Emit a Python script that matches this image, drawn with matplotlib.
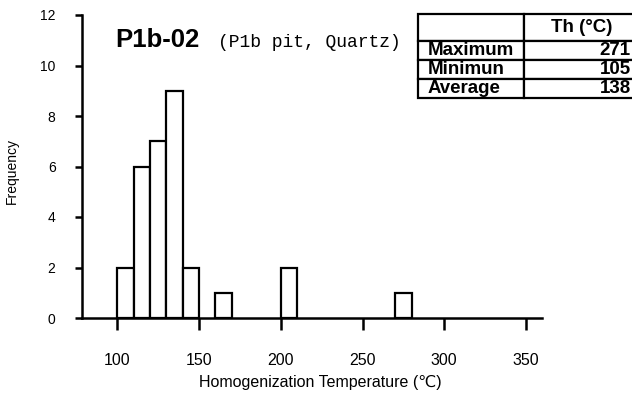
import matplotlib
matplotlib.use("Agg")
import matplotlib.pyplot as plt

# Data
bin_lefts = [100, 110, 120, 130, 140, 160, 200, 270]
counts = [2, 6, 7, 9, 2, 1, 2, 1]
bin_width = 10
x_ticks = [100, 150, 200, 250, 300, 350]
y_ticks = [0, 2, 4, 6, 8, 10, 12]
row_labels = ["Maximum", "Minimun", "Average"]
row_values = ["271", "105", "138"]
header = ["", "Th (°C)"]

FAM = ["Liberation Sans", "DejaVu Sans"]
plt.rcParams["font.family"] = FAM

fig = plt.figure(figsize=(6.32, 3.95), dpi=100)
ax = fig.add_axes([82/632, 1-318/395, 460/632, 303/395])

ax.bar(bin_lefts, counts, width=bin_width, align="edge", facecolor="white",
       edgecolor="black", linewidth=1.6, zorder=3)

ax.set_xlim(78.4, 359.8)
ax.set_ylim(0, 12)
ax.set_xticks(x_ticks)
ax.set_yticks(y_ticks)
for s in ["top", "right"]:
    ax.spines[s].set_visible(False)
for s in ["left", "bottom"]:
    ax.spines[s].set_linewidth(1.8)
ax.tick_params(axis="x", direction="out", length=8.5, width=1.8, pad=17, labelsize=11.5)
ax.tick_params(axis="y", direction="out", length=5, width=1.8, pad=14, labelsize=10)

ax.set_ylabel("Frequency", fontsize=10, va="center")
ax.yaxis.set_label_coords((12-82)/460, (318-171)/303)
ax.set_xlabel("Homogenization Temperature (℃)", fontsize=11.5, va="center")
ax.xaxis.set_label_coords((320-82)/460, (318-382)/303)

# Title texts
fig.text(115/632, 1-47/395, "P1b-02", fontsize=18.5, fontweight="bold",
         va="baseline", ha="left")
fig.text(218/632, 1-47/395, "(P1b pit, Quartz)", fontsize=13,
         va="baseline", ha="left", family="Liberation Mono")

# Table
cell_text = [header] + [[l, v] for l, v in zip(row_labels, row_values)]
x0 = (418-82)/460
y_top = (318-14)/303
y_bot = (318-98)/303
w = (640-418)/460
tbl = ax.table(cellText=cell_text, cellLoc="left",
               bbox=[x0, y_bot, w, y_top - y_bot], zorder=5)
tbl.auto_set_font_size(False)
for (r, c), cell in tbl.get_celld().items():
    cell.set_linewidth(1.6)
    cell.set_edgecolor("black")
    cell.set_width(106 if c == 0 else 116)
    cell.set_height(27 if r == 0 else 19)
    txt = cell.get_text()
    txt.set_fontsize(13.5)
    txt.set_fontweight("bold")
    cell.PAD = 0.09
    if c == 1:
        if r == 0:
            txt.set_horizontalalignment("center")
            cell.PAD = 0.0
        else:
            txt.set_horizontalalignment("right")
            cell.PAD = 0.08
    cell.set_clip_on(False)

fig.savefig("out.png", dpi=100)
